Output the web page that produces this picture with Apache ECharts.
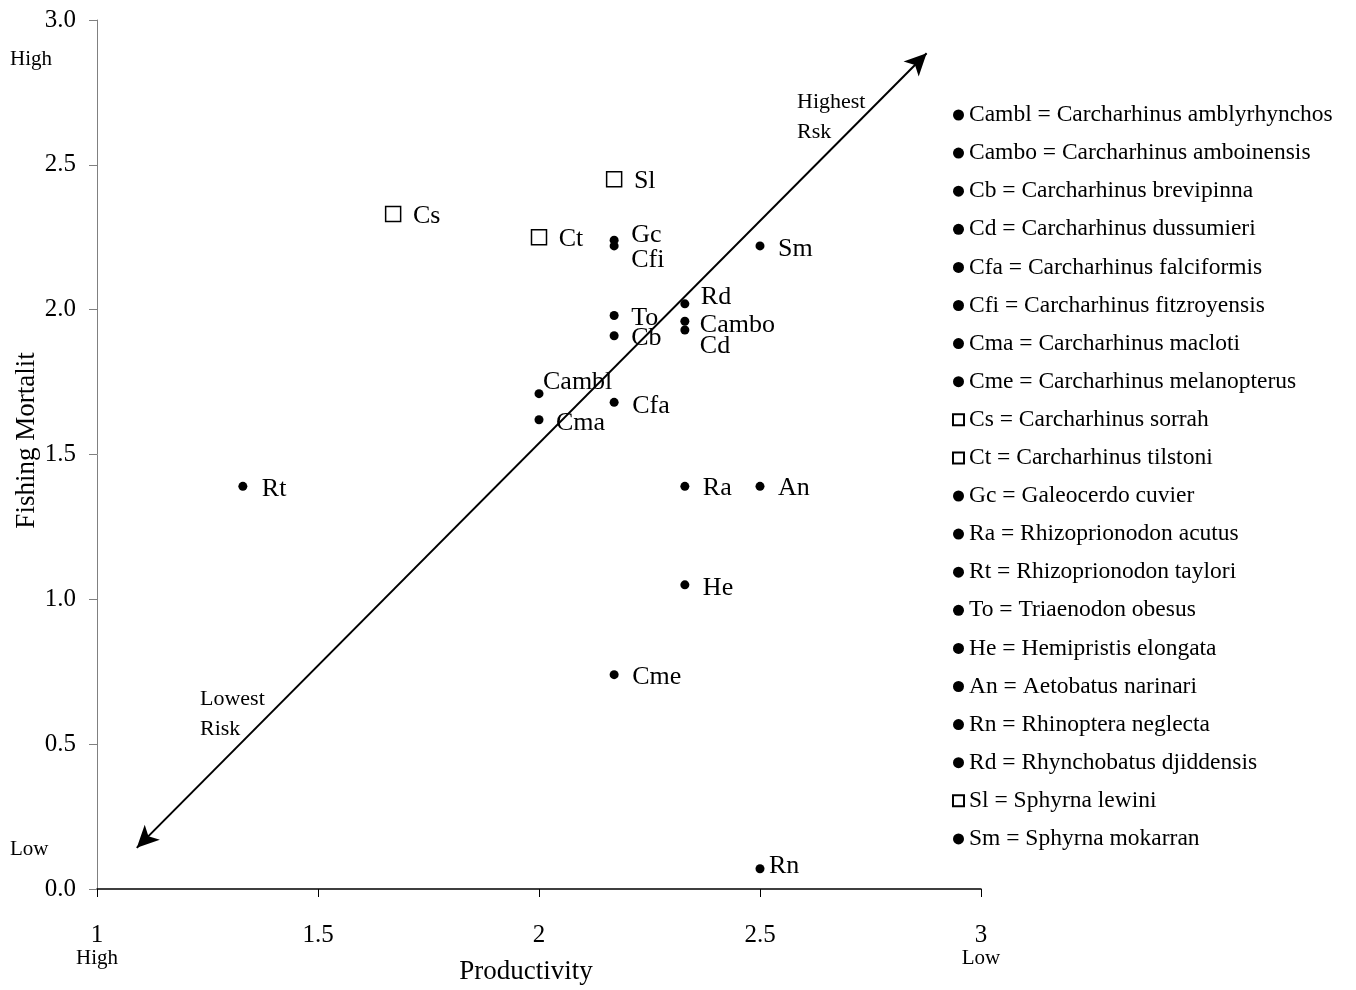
<!DOCTYPE html>
<html>
<head>
<meta charset="utf-8">
<script src="https://cdn.jsdelivr.net/npm/echarts@6/dist/echarts.min.js"></script>
<style>
html,body{margin:0;padding:0;background:#fff;}
#chart{width:1356px;height:990px;}
</style>
</head>
<body>
<div id="chart"></div>
<script>
// ---- data ----
const codes = ['Cambl','Cambo','Cb','Cd','Cfa','Cfi','Cma','Cme','Cs','Ct','Gc','Ra','Rt','To','He','An','Rn','Rd','Sl','Sm'];
const fullNames = ['Carcharhinus amblyrhynchos','Carcharhinus amboinensis','Carcharhinus brevipinna','Carcharhinus dussumieri',
  'Carcharhinus falciformis','Carcharhinus fitzroyensis','Carcharhinus macloti','Carcharhinus melanopterus',
  'Carcharhinus sorrah','Carcharhinus tilstoni','Galeocerdo cuvier','Rhizoprionodon acutus','Rhizoprionodon taylori',
  'Triaenodon obesus','Hemipristis elongata','Aetobatus narinari','Rhinoptera neglecta','Rhynchobatus djiddensis',
  'Sphyrna lewini','Sphyrna mokarran'];
const productivity = [2.00, 2.33, 2.17, 2.33, 2.17, 2.17, 2.00, 2.17, 1.67, 2.00, 2.17, 2.33, 1.33, 2.17, 2.33, 2.50, 2.50, 2.33, 2.17, 2.50];
const fishingMortality = [1.71, 1.96, 1.91, 1.93, 1.68, 2.22, 1.62, 0.74, 2.33, 2.25, 2.24, 1.39, 1.39, 1.98, 1.05, 1.39, 0.07, 2.02, 2.45, 2.22];
const markerType = ['dot','dot','dot','dot','dot','dot','dot','dot','square','square','dot','dot','dot','dot','dot','dot','dot','dot','square','dot'];
const xTicks = [1, 1.5, 2, 2.5, 3];
const yTicks = [0, 0.5, 1.0, 1.5, 2.0, 2.5, 3.0];
const riskArrow = [[1.09, 0.142], [2.877, 2.885]];

// ---- label placement (pixels, relative to marker centre) ----
const labelOffsets = {
  Cambl:[4,-11], Cambo:[15,4], Cb:[17,2], Cd:[15,16], Cfa:[18,4], Cfi:[17,14], Cma:[17,3], Cme:[18,3],
  Cs:[19,2], Ct:[19,2], Gc:[17,-5], Ra:[18,2], Rt:[19,3], To:[17,3], He:[18,3], An:[18,2], Rn:[9,-3],
  Rd:[16,-7], Sl:[19,2], Sm:[18,3]
};

const FONT = 'Liberation Serif';
const chart = echarts.init(document.getElementById('chart'));

const series = codes.map((c, i) => {
  const sq = markerType[i] === 'square';
  const size = sq ? 15 : 9;
  const off = labelOffsets[c];
  return {
    name: c,
    type: 'scatter',
    symbol: sq ? 'rect' : 'circle',
    symbolSize: size,
    itemStyle: sq ? {color:'#fff', borderColor:'#000', borderWidth:1.5, opacity:1} : {color:'#000', opacity:1},
    data: [[productivity[i], fishingMortality[i]]],
    label: {
      show: true, position: 'right', distance: 0,
      offset: [off[0] - size/2, off[1]],
      formatter: c, fontFamily: FONT, fontSize: 26, color: '#000'
    },
    emphasis: {disabled: true},
    z: 3
  };
});

series.push({
  name: 'arrow', type: 'scatter', data: [], silent: true,
  markLine: {
    silent: true, animation: false,
    symbol: ['arrow', 'arrow'], symbolSize: [16, 22],
    lineStyle: {color:'#000', width: 2, type: 'solid'},
    label: {show: false},
    emphasis: {disabled: true},
    data: [[{coord: riskArrow[0]}, {coord: riskArrow[1]}]]
  }
});

const option = {
  animation: false,
  backgroundColor: '#fff',
  grid: {left: 97, right: 375, top: 20, bottom: 101, outerBoundsMode: 'none', containLabel: false},
  xAxis: {
    type: 'value', min: 1, max: 3, interval: 0.5,
    name: 'Productivity', nameLocation: 'middle', nameGap: 69, nameMoveOverlap: false,
    nameTextStyle: {fontFamily: FONT, fontSize: 27, color: '#000', padding: [0, 26, 0, 0]},
    axisLine: {show: true, onZero: false, lineStyle: {color: '#000', width: 1.5}},
    axisTick: {show: true, inside: false, length: 8, lineStyle: {color: '#000'}},
    splitLine: {show: false},
    axisLabel: {
      margin: 34, color: '#000', fontFamily: FONT, fontSize: 25,
      formatter: v => {
        if (xTicks.indexOf(v) < 0) return '';
        if (v === 1) return '{a|1}\n{b|High}';
        if (v === 3) return '{a|3}\n{b|Low}';
        return '{a|' + v + '}';
      },
      rich: {
        a: {fontFamily: FONT, fontSize: 25, lineHeight: 24, color: '#000'},
        b: {fontFamily: FONT, fontSize: 21, lineHeight: 22, color: '#000'}
      }
    }
  },
  yAxis: {
    type: 'value', min: 0, max: 3, interval: 0.5,
    name: 'Fishing Mortalit', nameLocation: 'middle', nameGap: 57, nameMoveOverlap: false,
    nameTextStyle: {fontFamily: FONT, fontSize: 27, color: '#000', padding: [0, 0, 0, 28]},
    axisLine: {show: true, onZero: false, lineStyle: {color: '#808080', width: 1}},
    axisTick: {show: true, inside: false, length: 8, lineStyle: {color: '#808080'}},
    splitLine: {show: false},
    axisLabel: {
      margin: 21, color: '#000', fontFamily: FONT, fontSize: 25,
      formatter: v => yTicks.indexOf(v) >= 0 ? v.toFixed(1) : ''
    }
  },
  legend: {
    orient: 'vertical', left: 947, top: 98,
    data: codes,
    itemWidth: 11, itemHeight: 11, itemGap: 14.1,
    formatter: name => name + ' = ' + fullNames[codes.indexOf(name)],
    textStyle: {fontFamily: FONT, fontSize: 23.5, color: '#000', lineHeight: 24},
    inactiveColor: '#000',
    selectedMode: false
  },
  graphic: [
    {type: 'text', left: 10, top: 49, style: {text: 'High', font: '21px "Liberation Serif"', fill: '#000'}},
    {type: 'text', left: 10, top: 839, style: {text: 'Low', font: '21px "Liberation Serif"', fill: '#000'}},
    {type: 'text', left: 797, top: 87, style: {text: 'Highest\nRsk', font: '22px "Liberation Serif"', fill: '#000', lineHeight: 30}},
    {type: 'text', left: 200, top: 684, style: {text: 'Lowest\nRisk', font: '22px "Liberation Serif"', fill: '#000', lineHeight: 30}}
  ],
  series: series
};
chart.setOption(option);
</script>
</body>
</html>
